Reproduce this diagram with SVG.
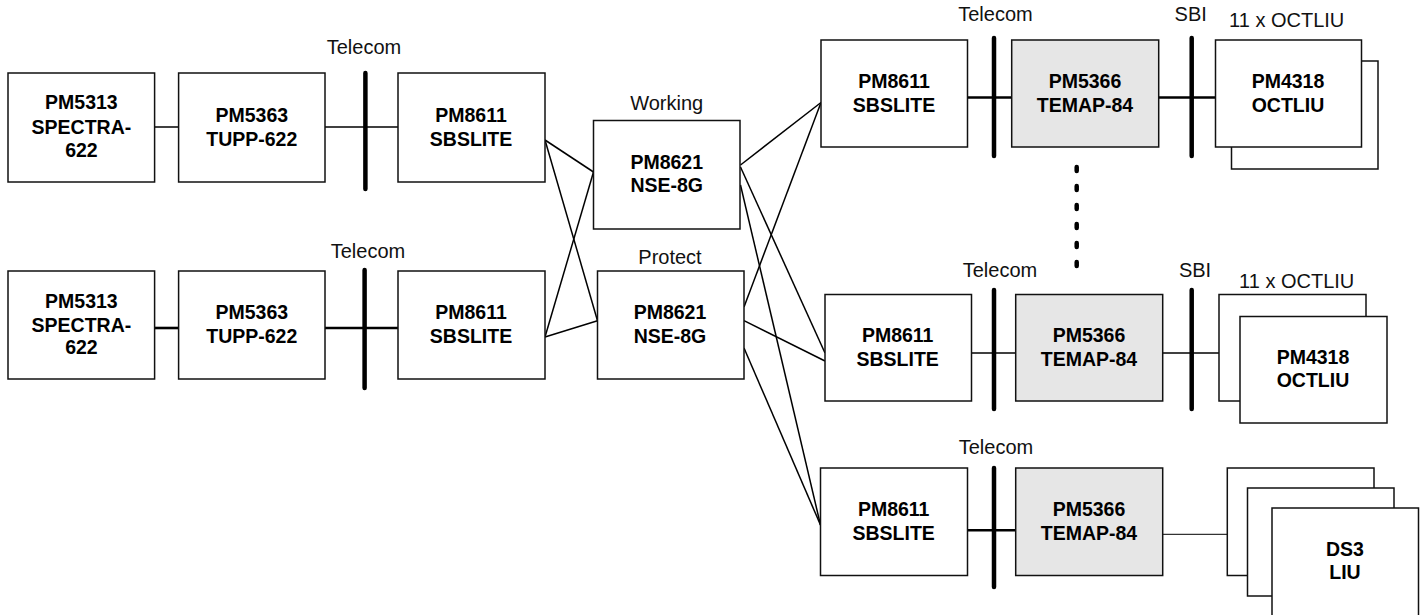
<svg xmlns="http://www.w3.org/2000/svg" width="1424" height="615" viewBox="0 0 1424 615">
<style>
rect{fill:#fff;stroke:#111;stroke-width:1.5}
rect.g{fill:#e6e6e6}
text{font-family:"Liberation Sans",Arial,sans-serif;font-size:20px;fill:#111;text-anchor:middle}
.b{font-weight:bold;font-size:19.5px;fill:#000}
line{stroke:#000;stroke-width:1.5;fill:none}
.t{stroke-width:2.6}
.bus{stroke-width:4.5;stroke-linecap:round}
.dot{stroke-width:4.5;stroke-linecap:round;stroke-dasharray:4 15}
</style>
<rect width="1424" height="615" style="fill:#fff;stroke:none"/>
<g id="connectors">
<line x1="155" y1="127" x2="179" y2="127"/>
<line x1="325" y1="127" x2="398" y2="127"/>
<line class="t" x1="155" y1="328" x2="179" y2="328"/>
<line class="t" x1="325" y1="328" x2="398" y2="328"/>
<line x1="545" y1="140" x2="593.5" y2="172"/>
<line x1="545" y1="140" x2="597.5" y2="320.7"/>
<line x1="545" y1="337" x2="593.5" y2="172"/>
<line x1="545" y1="337" x2="597.5" y2="320.7"/>
<line x1="740.5" y1="165" x2="821" y2="102.5"/>
<line x1="740.5" y1="167" x2="825" y2="353"/>
<line x1="740.5" y1="185" x2="820.5" y2="525"/>
<line x1="744" y1="307" x2="821" y2="102.5"/>
<line x1="744" y1="320.7" x2="825" y2="361"/>
<line x1="744" y1="348" x2="820.5" y2="525"/>
<line class="t" x1="967.5" y1="97.5" x2="1011.7" y2="97.5"/>
<line class="t" x1="1158.7" y1="97.5" x2="1215.5" y2="97.5"/>
<line x1="971.5" y1="353" x2="1015.7" y2="353"/>
<line x1="1162.7" y1="353" x2="1219" y2="353"/>
<line class="t" x1="967.5" y1="530.3" x2="1015.7" y2="530.3"/>
<line x1="1162.7" y1="534.3" x2="1227.3" y2="534.3" style="stroke-width:1"/>
<line class="bus" x1="365.4" y1="73" x2="365.4" y2="189"/>
<line class="bus" x1="364.6" y1="270" x2="364.6" y2="388"/>
<line class="bus" x1="994" y1="38" x2="994" y2="156"/>
<line class="bus" x1="1191.7" y1="38" x2="1191.7" y2="156"/>
<line class="bus" x1="994" y1="290" x2="994" y2="409"/>
<line class="bus" x1="1191.7" y1="290" x2="1191.7" y2="409"/>
<line class="bus" x1="994" y1="468" x2="994" y2="587"/>
<line class="dot" x1="1076.7" y1="167" x2="1076.7" y2="268"/>
</g>
<g id="n1"><rect x="8" y="73" width="146.6" height="109"/><text class="b" x="81.4" y="109.3">PM5313</text><text class="b" x="81.4" y="134">SPECTRA-</text><text class="b" x="81.4" y="156.7">622</text></g>
<g id="n2"><rect x="178.6" y="73" width="146.4" height="109"/><text class="b" x="251.8" y="121.7">PM5363</text><text class="b" x="251.8" y="146">TUPP-622</text></g>
<g id="n3"><rect x="398" y="73" width="147" height="109"/><text class="b" x="471" y="121.7">PM8611</text><text class="b" x="471" y="146">SBSLITE</text></g>
<text id="l1" x="364" y="54">Telecom</text>
<g id="n4"><rect x="8" y="271" width="146.6" height="108"/><text class="b" x="81.4" y="307.7">PM5313</text><text class="b" x="81.4" y="331.7">SPECTRA-</text><text class="b" x="81.4" y="354.3">622</text></g>
<g id="n5"><rect x="178.6" y="271" width="146.4" height="108"/><text class="b" x="251.8" y="318.7">PM5363</text><text class="b" x="251.8" y="342.7">TUPP-622</text></g>
<g id="n6"><rect x="398" y="271" width="147" height="108"/><text class="b" x="471" y="318.7">PM8611</text><text class="b" x="471" y="342.7">SBSLITE</text></g>
<text id="l2" x="368" y="257.7">Telecom</text>
<g id="n7"><rect x="593.5" y="120.5" width="146.5" height="108.5"/><text class="b" x="666.7" y="169">PM8621</text><text class="b" x="666.7" y="191.7">NSE-8G</text></g>
<text id="l3" x="666.7" y="110">Working</text>
<g id="n8"><rect x="597.5" y="271" width="146.5" height="108"/><text class="b" x="670" y="319.3">PM8621</text><text class="b" x="670" y="343.3">NSE-8G</text></g>
<text id="l4" x="670" y="264.3">Protect</text>
<g id="n9"><rect x="821" y="40" width="146.5" height="107"/><text class="b" x="894" y="88">PM8611</text><text class="b" x="894" y="112">SBSLITE</text></g>
<g id="n10"><rect class="g" x="1011.7" y="40" width="147" height="107"/><text class="b" x="1085" y="88">PM5366</text><text class="b" x="1085" y="112">TEMAP-84</text></g>
<g id="n11"><rect x="1231.5" y="61" width="146.5" height="108"/><rect x="1215.5" y="40" width="146" height="107"/><text class="b" x="1288" y="88">PM4318</text><text class="b" x="1288" y="112">OCTLIU</text></g>
<text id="l5" x="995.5" y="21">Telecom</text>
<text id="l6" x="1190.7" y="21">SBI</text>
<text id="l7" x="1286.7" y="26.7">11 x OCTLIU</text>
<g id="n12"><rect x="825" y="294.5" width="146.5" height="106.5"/><text class="b" x="897.7" y="341.7">PM8611</text><text class="b" x="897.7" y="365.7">SBSLITE</text></g>
<g id="n13"><rect class="g" x="1015.7" y="294.5" width="147" height="106.5"/><text class="b" x="1089" y="341.7">PM5366</text><text class="b" x="1089" y="365.7">TEMAP-84</text></g>
<g id="n14"><rect x="1219" y="294.5" width="147" height="106.5"/><rect x="1240" y="316.5" width="147" height="106.5"/><text class="b" x="1313" y="364">PM4318</text><text class="b" x="1313" y="386.7">OCTLIU</text></g>
<text id="l8" x="1000" y="276.7">Telecom</text>
<text id="l9" x="1195" y="276.7">SBI</text>
<text id="l10" x="1296.7" y="287.7">11 x OCTLIU</text>
<g id="n15"><rect x="820.5" y="468" width="147" height="107.5"/><text class="b" x="893.7" y="515.7">PM8611</text><text class="b" x="893.7" y="540">SBSLITE</text></g>
<g id="n16"><rect class="g" x="1015.7" y="468" width="147" height="107.5"/><text class="b" x="1089" y="515.7">PM5366</text><text class="b" x="1089" y="540">TEMAP-84</text></g>
<g id="n17"><rect x="1227.3" y="468" width="146.7" height="107.5"/><rect x="1247.5" y="488" width="146.5" height="108"/><rect x="1272" y="508" width="146.5" height="108"/><text class="b" x="1345" y="555.7">DS3</text><text class="b" x="1345" y="579">LIU</text></g>
<text id="l11" x="996" y="454">Telecom</text>
</svg>
